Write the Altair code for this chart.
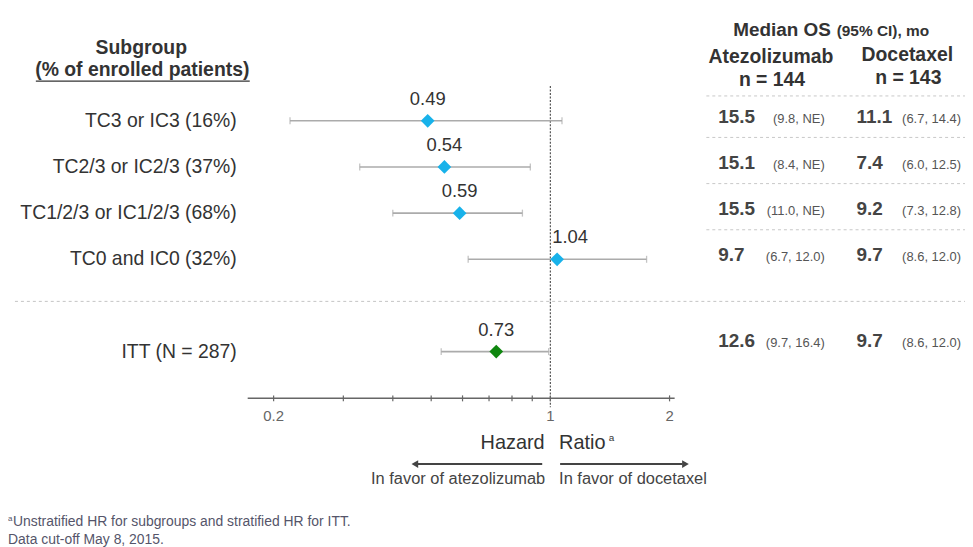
import altair as alt
import pandas as pd

# ---------------- data ----------------
subgroups = ["TC3 or IC3 (16%)", "TC2/3 or IC2/3 (37%)", "TC1/2/3 or IC1/2/3 (68%)",
             "TC0 and IC0 (32%)", "ITT (N = 287)"]
row_pos = [0, 1, 2, 3, 5]
group = ["Subgroup", "Subgroup", "Subgroup", "Subgroup", "ITT"]
hr = [0.49, 0.54, 0.59, 1.04, 0.73]
ci_low = [0.22, 0.33, 0.40, 0.62, 0.53]
ci_high = [1.07, 0.89, 0.85, 1.75, 0.99]
atezo_os = ["15.5", "15.1", "15.5", "9.7", "12.6"]
atezo_ci = ["(9.8, NE)", "(8.4, NE)", "(11.0, NE)", "(6.7, 12.0)", "(9.7, 16.4)"]
doce_os = ["11.1", "7.4", "9.2", "9.7", "9.7"]
doce_ci = ["(6.7, 14.4)", "(6.0, 12.5)", "(7.3, 12.8)", "(8.6, 12.0)", "(8.6, 12.0)"]

axis_ticks = [0.2, 0.3, 0.4, 0.5, 0.6, 0.7, 0.8, 0.9, 1, 2]
axis_labels = [0.2, 1, 2]
axis_span = [0.172, 2.06]
ref_value = [1]

df = pd.DataFrame({
    "subgroup": subgroups, "row": row_pos, "group": group, "hr": hr,
    "lo": ci_low, "hi": ci_high,
    "atezo_os": atezo_os, "atezo_ci": atezo_ci,
    "doce_os": doce_os, "doce_ci": doce_ci,
})

# ---------------- layout ----------------
W, H = 962, 539
FONT = "Liberation Sans"
X_ONE, PPD = 545.2, 398.0      # pixel of HR = 1, pixels per decade
ROW0, RPX = 112.0, 46.4        # pixel of row 0, pixels per row

xscale = alt.Scale(type="log", domain=[10 ** (-X_ONE / PPD), 10 ** ((W - X_ONE) / PPD)], nice=False)
yscale = alt.Scale(domain=[-ROW0 / RPX, (H - ROW0) / RPX], reverse=True, nice=False, zero=False)

X = lambda f: alt.X(f, type="quantitative", scale=xscale, axis=None)
Y = lambda f: alt.Y(f, type="quantitative", scale=yscale, axis=None)

base = alt.Chart(df)


def label(text, x, y, **kw):
    opts = dict(font=FONT, baseline="alphabetic", color="#333333")
    opts.update(kw)
    return alt.Chart(pd.DataFrame({"t": [text]})).mark_text(**opts).encode(
        x=alt.value(x), y=alt.value(y), text="t:N")


def one():
    return alt.Chart(pd.DataFrame({"t": [0]}))


layers = []

# separators
layers.append(one().mark_rule(color="#c4c4c4", strokeDash=[3, 3], strokeWidth=1).encode(
    x=alt.value(7), x2=alt.value(W), y=alt.value(293.5)))
layers.append(one().mark_rule(color="#c8c8c8", strokeDash=[3, 3], strokeWidth=1).encode(
    x=alt.value(702), x2=alt.value(W), y=alt.value(87)))
layers.append(base.transform_filter("datum.row < 3").transform_calculate(
    sep="datum.row + 0.36").mark_rule(
    color="#c8c8c8", strokeDash=[3, 3], strokeWidth=1).encode(
    x=alt.value(702), x2=alt.value(W), y=Y("sep")))

# reference line at HR = 1
layers.append(alt.Chart(pd.DataFrame({"v": ref_value})).mark_rule(
    color="#555555", strokeDash=[2, 1.5], strokeWidth=1.2).encode(
    x=X("v"), y=alt.value(77), y2=alt.value(400)))

# custom axis
layers.append(alt.Chart(pd.DataFrame({"a": [axis_span[0]], "b": [axis_span[1]]})).mark_rule(
    color="#666666", strokeWidth=1.5).encode(x=X("a"), x2="b:Q", y=alt.value(391)))
layers.append(alt.Chart(pd.DataFrame({"t": axis_ticks})).mark_rule(
    color="#666666", strokeWidth=1.2).encode(x=X("t"), y=alt.value(388), y2=alt.value(394)))
layers.append(alt.Chart(pd.DataFrame({"t": axis_labels})).mark_text(
    font=FONT, fontSize=15, color="#666666", baseline="middle").encode(
    x=X("t"), y=alt.value(409), text=alt.Text("t:Q", format="~g")))

# CI lines and caps
layers.append(base.mark_rule(color="#ababab", strokeWidth=1.6).encode(
    x=X("lo"), x2="hi:Q", y=Y("row")))
layers.append(base.mark_tick(orient="vertical", color="#ababab", size=7, thickness=1.3).encode(
    x=X("lo"), y=Y("row")))
layers.append(base.mark_tick(orient="vertical", color="#ababab", size=7, thickness=1.3).encode(
    x=X("hi"), y=Y("row")))

# diamonds
layers.append(base.mark_point(shape="diamond", filled=True, size=190, opacity=1).encode(
    x=X("hr"), y=Y("row"),
    color=alt.Color("group:N", scale=alt.Scale(domain=["Subgroup", "ITT"],
                                               range=["#18b2ea", "#0f870f"]), legend=None)))

# HR value labels
layers.append(base.transform_filter("datum.hr <= 1").mark_text(
    font=FONT, fontSize=18.5, color="#333333", baseline="middle", dy=-22).encode(
    x=X("hr"), y=Y("row"), text=alt.Text("hr:Q", format=".2f")))
layers.append(base.transform_filter("datum.hr > 1").mark_text(
    font=FONT, fontSize=18.5, color="#333333", baseline="middle", dy=-22, dx=13).encode(
    x=X("hr"), y=Y("row"), text=alt.Text("hr:Q", format=".2f")))

# subgroup labels
layers.append(base.mark_text(font=FONT, fontSize=19.5, color="#333333", align="right",
                             baseline="middle").encode(
    x=alt.value(230), y=Y("row"), text="subgroup:N"))

# table values
for flt, dy in (("datum.row < 5", 2), ("datum.row == 5", -5)):
    sub = base.transform_filter(flt)
    layers.append(sub.mark_text(font=FONT, fontSize=19, fontWeight="bold", color="#444444",
                                align="left", baseline="alphabetic", dy=dy).encode(
        x=alt.value(714), y=Y("row"), text="atezo_os:N"))
    layers.append(sub.mark_text(font=FONT, fontSize=13, color="#555555",
                                align="right", baseline="alphabetic", dy=dy).encode(
        x=alt.value(821), y=Y("row"), text="atezo_ci:N"))
    layers.append(sub.mark_text(font=FONT, fontSize=19, fontWeight="bold", color="#444444",
                                align="left", baseline="alphabetic", dy=dy).encode(
        x=alt.value(853), y=Y("row"), text="doce_os:N"))
    layers.append(sub.mark_text(font=FONT, fontSize=13, color="#555555",
                                align="right", baseline="alphabetic", dy=dy).encode(
        x=alt.value(958), y=Y("row"), text="doce_ci:N"))

# headers
layers.append(label("Subgroup", 134, 45, fontSize=19.5, fontWeight="bold", align="center"))
layers.append(label("(% of enrolled patients)", 135, 67, fontSize=19.5, fontWeight="bold",
                    align="center"))
layers.append(one().mark_rule(color="#333333", strokeWidth=1.3).encode(
    x=alt.value(28), x2=alt.value(243), y=alt.value(72)))
layers.append(label("Median OS", 729, 27, fontSize=19, fontWeight="bold", align="left"))
layers.append(label("(95% CI), mo", 833, 27, fontSize=15.5, fontWeight="bold", align="left"))
layers.append(label("Atezolizumab", 767, 54, fontSize=19.5, fontWeight="bold", align="center"))
layers.append(label("n = 144", 768, 77, fontSize=19.5, fontWeight="bold", align="center"))
layers.append(label("Docetaxel", 904, 52, fontSize=19.5, fontWeight="bold", align="center"))
layers.append(label("n = 143", 905, 75, fontSize=19.5, fontWeight="bold", align="center"))

# x-axis title and arrows
layers.append(label("Hazard", 475, 442, fontSize=20, align="left", color="#333333"))
layers.append(label("Ratio", 554, 442, fontSize=20, align="left", color="#333333"))
layers.append(label("a", 604, 434, fontSize=10, align="left", color="#333333"))
layers.append(one().mark_rule(color="#444444", strokeWidth=2).encode(
    x=alt.value(537), x2=alt.value(411), y=alt.value(457)))
layers.append(one().mark_rule(color="#444444", strokeWidth=2).encode(
    x=alt.value(555), x2=alt.value(678), y=alt.value(457)))
layers.append(one().mark_point(
    shape="triangle-left", filled=True, size=60, color="#444444", opacity=1).encode(
    x=alt.value(409), y=alt.value(457)))
layers.append(one().mark_point(
    shape="triangle-right", filled=True, size=60, color="#444444", opacity=1).encode(
    x=alt.value(681), y=alt.value(457)))
layers.append(label("In favor of atezolizumab", 540, 472, fontSize=16.5, align="right",
                    baseline="middle", color="#444444"))
layers.append(label("In favor of docetaxel", 554, 472, fontSize=16.5, align="left",
                    baseline="middle", color="#444444"))

# footnotes
layers.append(label("a", 0, 514, fontSize=8, align="left", color="#55556a"))
layers.append(label("Unstratified HR for subgroups and stratified HR for ITT.", 5, 519,
                    fontSize=14, align="left", color="#55556a"))
layers.append(label("Data cut-off May 8, 2015.", 0, 537, fontSize=14, align="left",
                    color="#55556a"))

chart = alt.layer(*layers).properties(
    width=W, height=H,
    autosize=alt.AutoSizeParams(type="none"),
    padding=0,
).configure(background="white").configure_view(strokeWidth=0, stroke=None)

chart.save("out.html", embed_options={"renderer": "svg", "actions": False})
